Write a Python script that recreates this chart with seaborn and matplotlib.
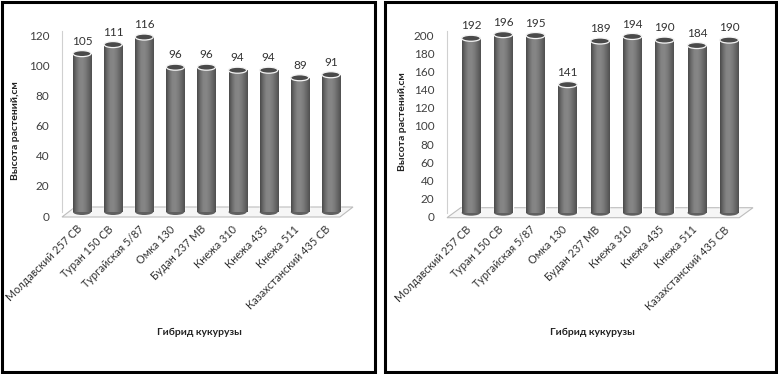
import numpy as np
import pandas as pd
import matplotlib
matplotlib.use("Agg")
import matplotlib.pyplot as plt
import seaborn as sns
from matplotlib.patches import Ellipse, Polygon, Rectangle
from matplotlib.colors import LinearSegmentedColormap
from matplotlib.transforms import ScaledTranslation

# ---- data ----
hybrids = ['Молдавский 257 СВ', 'Туран 150 СВ', 'Тургайская 5/87', 'Омка 130',
           'Будан 237 МВ', 'Кнежа 310', 'Кнежа 435', 'Кнежа 511',
           'Казахстанский 435 СВ']
height_left = [105, 111, 116, 96, 96, 94, 94, 89, 91]
height_right = [192, 196, 195, 141, 189, 194, 190, 184, 190]
ymax_left = 120
ymax_right = 200
ylabel = 'Высота растений,см'
xlabel = 'Гибрид кукурузы'

sns.set_theme(style='white')
plt.rcParams['font.family'] = ['Lato', 'DejaVu Sans']

W, H = 778, 374
fig = plt.figure(figsize=(W / 100, H / 100), dpi=100)
fig.patch.set_facecolor('white')


def px_axes(x0, x1, ytop, ybot):
    return fig.add_axes([x0 / W, 1 - ybot / H, (x1 - x0) / W, (ybot - ytop) / H])


cmap = LinearSegmentedColormap.from_list(
    'cyl', ['#4a4a4a', '#6c6c6c', '#848484', '#868686', '#7a7a7a', '#666666', '#505050'])
grad = np.linspace(0, 1, 64).reshape(1, -1)

SHIFT = 4  # px: bars stand mid-depth on the 3D floor


def draw(ax, values, ymax, xlim, ylab_coords, xlab_x):
    df = pd.DataFrame({'hybrid': hybrids, 'h': values})
    sns.barplot(data=df, x='hybrid', y='h', color='#747474', width=0.58,
                saturation=1, ax=ax, zorder=3)
    ax_h_px = ax.get_position().height * H
    eh = 6 * ymax / ax_h_px
    for p in list(ax.patches):
        x, y, w, h = p.get_x(), p.get_y(), p.get_width(), p.get_height()
        ax.add_patch(Ellipse((x + w / 2, 0), w, eh, fc='#606060', ec='none',
                             zorder=2.9, clip_on=False))
        im = ax.imshow(grad, extent=[x, x + w, y, y + h], aspect='auto',
                       cmap=cmap, zorder=3.5, interpolation='bilinear')
        im.set_clip_path(p)
        ax.add_patch(Ellipse((x + w / 2, y + h), w, eh,
                             fc='#4a4a4a', ec='#f4f4f4', lw=0.9, zorder=4))
    ax.bar_label(ax.containers[0], padding=5, fontsize=8.5, color='#333333', zorder=5)
    ax.set_xlim(*xlim)
    ax.set_ylim(0, ymax)
    ax.set_yticks(range(0, ymax + 1, 20))
    ax.set_aspect('auto')

    # floor
    f0 = -(SHIFT + 1) / ax_h_px
    f1 = (SHIFT + 1) / ax_h_px
    floor = Polygon([(0, f0), (0.955, f0), (1.0, f1), (0.045, f1)],
                    closed=True, transform=ax.transAxes, fc='#f6f6f6',
                    ec='#bdbdbd', lw=0.8, clip_on=False, zorder=1)
    ax.add_patch(floor)

    for s in ['top', 'right', 'bottom']:
        ax.spines[s].set_visible(False)
    ax.spines['left'].set_color('#d0d0d0')
    ax.spines['left'].set_linewidth(0.8)
    ax.spines['left'].set_bounds(0, ymax)
    ax.tick_params(axis='y', length=0, pad=9, labelsize=8.5, labelcolor='#404040')
    ax.tick_params(axis='x', length=0, pad=11, labelsize=7.8, labelcolor='#333333')
    for lab in ax.get_yticklabels():
        lab.set_transform(lab.get_transform() +
                          ScaledTranslation(0, -SHIFT / 100, fig.dpi_scale_trans))
    for lab in ax.get_xticklabels():
        lab.set_rotation(45)
        lab.set_ha('right')
        lab.set_va('center')
        lab.set_rotation_mode('anchor')
        lab.set_transform(lab.get_transform() +
                          ScaledTranslation(-2 / 100, 0, fig.dpi_scale_trans))
    ax.set_xlabel('')
    ax.set_ylabel(ylabel, fontsize=7.5, fontweight='bold', color='#222222')
    ax.yaxis.set_label_coords(*ylab_coords)
    fig.text(xlab_x / W, 1 - 332 / H, xlabel, ha='center', va='center',
             fontsize=7.5, fontweight='bold', color='#222222')
    ax.set_facecolor('none')


ax1 = px_axes(62, 353, 35 - SHIFT, 216 - SHIFT)
draw(ax1, height_left, ymax_left, (-0.643, 8.71), (-0.145, 0.45), 199)

ax2 = px_axes(447, 753, 35 - SHIFT, 216.7 - SHIFT)
draw(ax2, height_right, ymax_right, (-0.744, 8.74), (-0.13, 0.5), 592)

# panel frames
for x0, x1 in [(1.5, 374.5), (384.5, 776.5)]:
    fig.add_artist(Rectangle((x0 / W, 1 - 371.5 / H), (x1 - x0) / W, (371.5 - 1.5) / H,
                             transform=fig.transFigure, fill=False, ec='black', lw=2.2))

fig.savefig('out.png', dpi=100, facecolor='white')
